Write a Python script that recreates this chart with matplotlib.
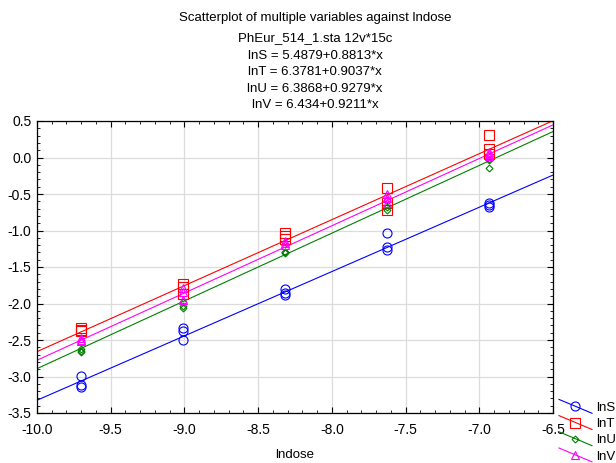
import numpy as np
import matplotlib
matplotlib.use("Agg")
import matplotlib.pyplot as plt
from matplotlib.lines import Line2D
from matplotlib.legend_handler import HandlerBase
from matplotlib.ticker import MultipleLocator, FormatStrFormatter

plt.rcParams['font.family'] = ['Liberation Sans', 'DejaVu Sans']
plt.rcParams['axes.unicode_minus'] = False

# ---- data ----
lndose_levels = [-9.704, -9.011, -8.318, -7.625, -6.931]
lndose = [x for x in lndose_levels for _ in range(3)]

lnS = [-2.99, -3.11, -3.15,
       -2.33, -2.38, -2.50,
       -1.80, -1.85, -1.88,
       -1.03, -1.22, -1.27,
       -0.62, -0.65, -0.68]
lnT = [-2.34, -2.36, -2.37,
       -1.73, -1.78, -1.87,
       -1.04, -1.08, -1.12,
       -0.42, -0.62, -0.72,
       0.31, 0.12, 0.05]
lnU = [-2.63, -2.65, -2.66,
       -1.98, -2.03, -2.06,
       -1.29, -1.30, -1.31,
       -0.58, -0.68, -0.72,
       -0.02, -0.04, -0.15]
lnV = [-2.47, -2.50, -2.52,
       -1.79, -1.84, -1.95,
       -1.14, -1.17, -1.20,
       -0.50, -0.55, -0.62,
       0.02, 0.05, 0.07]

series_names = ['lnS', 'lnT', 'lnU', 'lnV']
series_values = [lnS, lnT, lnU, lnV]
intercepts = [5.4879, 6.3781, 6.3868, 6.434]
slopes = [0.8813, 0.9037, 0.9279, 0.9211]
intercept_labels = ['5.4879', '6.3781', '6.3868', '6.434']
slope_labels = ['0.8813', '0.9037', '0.9279', '0.9211']

colors = ['#0000ff', '#ff0000', '#008000', '#ff00ff']
markers = ['o', 's', 'D', '^']
msizes = [6.5, 6.5, 3.5, 6.0]

xlim = (-10.0, -6.5)
ylim = (-3.5, 0.5)

fig = plt.figure(figsize=(6.16, 4.63), dpi=100)
ax = fig.add_axes([37/616, 1-413/463, (553-37)/616, (413-121)/463])

xl = np.array(xlim)
for name, vals, b0, b1, c, m, ms in zip(series_names, series_values, intercepts, slopes, colors, markers, msizes):
    ax.plot(xl, b0 + b1*xl, color=c, lw=0.8, zorder=2)
    ax.plot(lndose, vals, linestyle='none', marker=m, ms=ms, mfc='none',
            mec=c, mew=0.8, label=name, color=c, zorder=3)

ax.set_xlim(*xlim)
ax.set_ylim(*ylim)
ax.xaxis.set_major_locator(MultipleLocator(0.5))
ax.yaxis.set_major_locator(MultipleLocator(0.5))
ax.xaxis.set_minor_locator(MultipleLocator(0.1))
ax.yaxis.set_minor_locator(MultipleLocator(0.1))
ax.xaxis.set_major_formatter(FormatStrFormatter('%.1f'))
ax.yaxis.set_major_formatter(FormatStrFormatter('%.1f'))
ax.tick_params(which='both', direction='in', top=True, right=True, labelsize=10, colors='black')
ax.tick_params(which='major', length=4, width=0.8)
ax.tick_params(which='minor', length=2, width=0.6)
ax.tick_params(axis='x', pad=7)
ax.tick_params(axis='y', pad=4)
ax.grid(True, which='major', color='#dcdcdc', lw=0.9)
ax.set_axisbelow(True)
for s in ax.spines.values():
    s.set_color('black')
    s.set_linewidth(0.9)
ax.set_xlabel('lndose', fontsize=9.5, labelpad=9)

title_lines = ['Scatterplot of multiple variables against lndose',
               'PhEur_514_1.sta 12v*15c']
title_lines += [f'{n} = {a}+{b}*x' for n, a, b in zip(series_names, intercept_labels, slope_labels)]
ys = [18, 38, 56, 72, 89, 105]
for t, y in zip(title_lines, ys):
    fig.text(315/616, 1 - y/463, t, ha='center', va='center', fontsize=9.5)


class DiagHandler(HandlerBase):
    def create_artists(self, legend, orig, xdescent, ydescent, width, height, fontsize, trans):
        x0, x1 = -xdescent, -xdescent + width
        y0, y1 = -ydescent + height*1.25, -ydescent - height*0.25
        ln = Line2D([x0, x1], [y0, y1], color=orig.get_color(), lw=0.8, transform=trans)
        mk = Line2D([(x0+x1)/2], [(y0+y1)/2], marker=orig.get_marker(), ms=orig.get_markersize(),
                    mfc='none', mec=orig.get_markeredgecolor(), mew=0.8, linestyle='none', transform=trans)
        return [ln, mk]


handles, labels = ax.get_legend_handles_labels()
leg = fig.legend(handles, labels, loc='lower left', bbox_to_anchor=(559/616, 0.001),
                 frameon=False, fontsize=9.5, handler_map={Line2D: DiagHandler()},
                 handlelength=2.5, handletextpad=0.35, labelspacing=0.3, borderaxespad=0.0,
                 borderpad=0.0)

fig.savefig('out.png', dpi=100)
